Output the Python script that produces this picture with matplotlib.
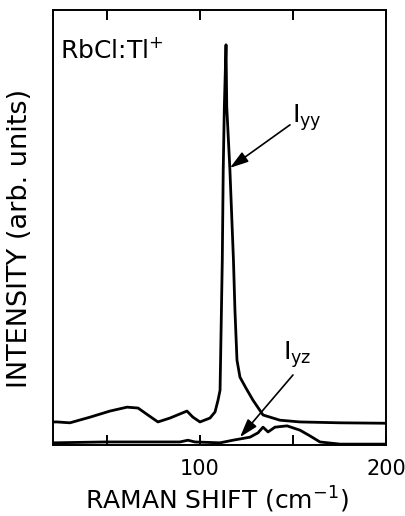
import matplotlib
matplotlib.use("Agg")
import matplotlib.pyplot as plt

# Data (x: Raman shift in cm-1, y: intensity, arb. units)
iyy_x = [21.0, 23.1, 30.1, 40.9, 51.6, 60.8, 66.7, 72.0, 77.4, 83.9, 93.0, 96.2,
         100.0, 105.4, 108.1, 109.7, 110.8, 112.0, 112.5, 113.1, 114.0, 114.4,
         116.1, 118.0, 118.8, 119.9, 121.5, 124.7, 128.5, 133.9, 143.0, 153.8,
         175.3, 200.0]
iyy_y = [5.3, 5.3, 5.1, 6.4, 7.8, 8.7, 8.5, 6.9, 5.3, 6.2, 7.8, 6.4,
         5.3, 6.2, 7.6, 10.3, 12.6, 42.5, 63.2, 77.7, 92.0, 77.7,
         63.2, 42.5, 31.0, 19.5, 15.6, 13.1, 10.3, 6.9, 5.7, 5.3,
         5.1, 5.0]

iyz_x = [21.0, 48.9, 67.7, 89.2, 93.5, 97.3, 110.8, 117.7, 126.9, 131.2, 133.9,
         136.6, 140.3, 146.8, 153.8, 159.1, 164.5, 175.3, 200.0]
iyz_y = [0.5, 0.7, 0.7, 0.7, 1.1, 0.7, 0.5, 1.1, 1.8, 2.8, 4.1,
         3.0, 4.1, 4.4, 3.4, 2.1, 0.7, 0.2, 0.2]

x_ticks = [50, 100, 150, 200]
x_tick_labels = ["", "100", "", "200"]

plt.rcParams["font.family"] = ["DejaVu Sans"]

fig = plt.figure(figsize=(4.05, 5.16), dpi=100)
ax = fig.add_axes([53/405, 1-445/516, 333/405, 435/516])

ax.plot(iyy_x, iyy_y, color="black", lw=2.0, solid_joinstyle="round")
ax.plot(iyz_x, iyz_y, color="black", lw=2.0, solid_joinstyle="round")

ax.set_xlim(21, 200)
ax.set_ylim(0, 100)
ax.set_xticks(x_ticks)
ax.set_xticklabels(x_tick_labels, fontsize=15)
ax.set_yticks([])
ax.tick_params(axis="x", direction="in", top=True, length=7, width=1.4, pad=10)
for s in ax.spines.values():
    s.set_linewidth(1.4)

ax.text(24.5, 90.8, "RbCl:Tl$^{+}$", fontsize=18, va="center", ha="left")

astyle = "-|>,head_length=0.7,head_width=0.22"
ax.annotate("", xy=(116.1, 63.7), xytext=(148.4, 73.6),
            arrowprops=dict(arrowstyle=astyle, color="black", lw=1.2,
                            mutation_scale=16, shrinkA=0, shrinkB=0))
ax.text(149.5, 75.2, "I$_{\\rm yy}$", fontsize=18, va="center", ha="left")

ax.annotate("", xy=(121.5, 1.8), xytext=(150.0, 16.1),
            arrowprops=dict(arrowstyle=astyle, color="black", lw=1.2,
                            mutation_scale=16, shrinkA=0, shrinkB=0))
ax.text(144.6, 20.7, "I$_{\\rm yz}$", fontsize=18, va="center", ha="left")

fig.text(216.5/405, 1-500/516, "RAMAN SHIFT (cm$^{-1}$)", fontsize=18,
         ha="center", va="center")
fig.text(20/405, 1-238/516, "INTENSITY (arb. units)", fontsize=19.5,
         ha="center", va="center", rotation=90)

fig.savefig("out.png", dpi=100)
